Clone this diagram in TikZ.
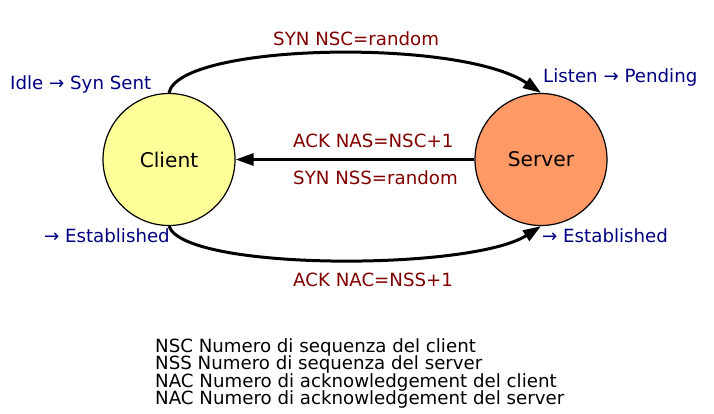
\documentclass[tikz,border=0pt]{standalone}
\usepackage{fontspec}
\setmainfont{DejaVu Sans}
\usetikzlibrary{arrows.meta}
\definecolor{lblred}{HTML}{800000}
\definecolor{lblblue}{HTML}{000080}
\definecolor{clientfill}{HTML}{FFFF99}
\definecolor{serverfill}{HTML}{FF9966}
\begin{document}
\begin{tikzpicture}[x=1pt,y=-1pt,
  state/.style={circle,draw=black,line width=1.2pt,minimum size=132pt,inner sep=0pt,font=\fontsize{20.2}{24}\selectfont},
  conn/.style={line width=3pt,-{Triangle[length=18pt,width=12pt]}},
  msg/.style={inner sep=0pt,text=lblred,font=\fontsize{18.2}{20}\selectfont},
  st/.style={inner sep=0pt,text=lblblue,font=\fontsize{18.2}{20}\selectfont},
  leg/.style={inner sep=0pt,anchor=base west,font=\fontsize{18.2}{20}\selectfont}]
\useasboundingbox (0,0) rectangle (714,413);
\node[state,fill=clientfill] (client) at (169,159.5) {Client};
\node[state,fill=serverfill] (server) at (541,159.5) {Server};
\draw[conn] (client.north) .. controls +(10,-50) and +(-80,-55) .. (server.north);
\draw[conn] (server.west) -- (client.east);
\draw[conn] (client.south) .. controls +(15,45) and +(-70,45) .. (server.south);
\node[msg,anchor=base west] (m1) at (273,45.5) {SYN NSC=random};
\node[msg,anchor=base west] (m2) at (293,147) {ACK NAS=NSC+1};
\node[msg,anchor=base west] (m3) at (293,184) {SYN NSS=random};
\node[msg,anchor=base west] (m4) at (293,286.5) {ACK NAC=NSS+1};
\node[st,anchor=base west] (s1) at (10,89) {Idle → Syn Sent};
\node[st,anchor=base west] (s2) at (543,82) {Listen → Pending};
\node[st,anchor=base east] (s3) at (170,242.5) {→ Established};
\node[st,anchor=base west] (s4) at (542,242.5) {→ Established};
\node[leg] (l1) at (155,352) {NSC Numero di sequenza del client};
\node[leg] (l2) at (155,369.6) {NSS Numero di sequenza del server};
\node[leg] (l3) at (155,387.2) {NAC Numero di acknowledgement del client};
\node[leg] (l4) at (155,404.8) {NAC Numero di acknowledgement del server};
\end{tikzpicture}
\end{document}
